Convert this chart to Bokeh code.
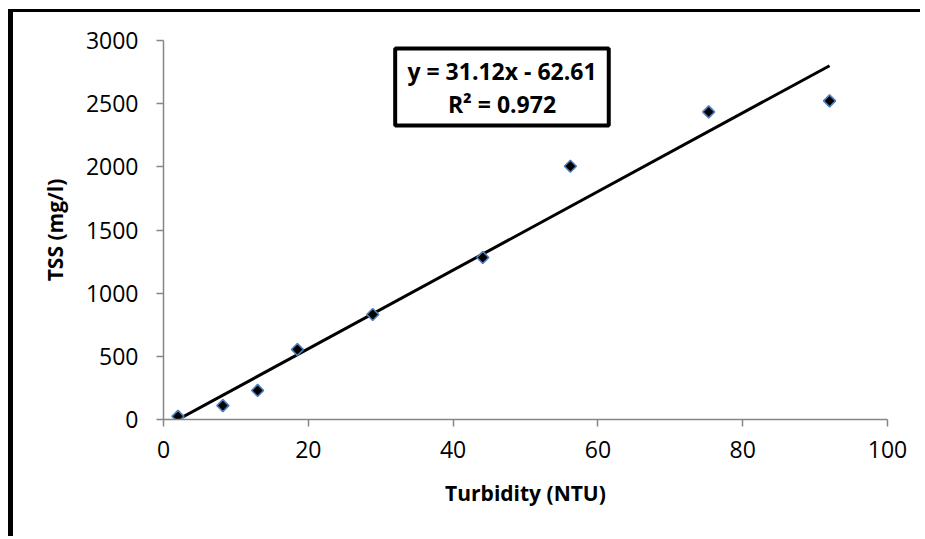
import numpy as np
from bokeh.plotting import figure
from bokeh.models import Range1d, FixedTicker, BoxAnnotation, Label, ColumnDataSource
from bokeh.embed import file_html
from bokeh.resources import INLINE

# ---- data ----
turbidity = [2.0, 8.2, 13.0, 18.5, 28.9, 44.1, 56.2, 75.3, 92.0]
tss = [25, 110, 230, 554, 831, 1282, 2005, 2435, 2522]
slope = 31.12
intercept = -62.61
r_squared = 0.972
x_ticks = [0, 20, 40, 60, 80, 100]
y_ticks = [0, 500, 1000, 1500, 2000, 2500, 3000]
x_title = "Turbidity (NTU)"
y_title = "TSS (mg/l)"

FONT = "Open Sans"
AXIS_GRAY = "#868686"

p = figure(width=912, height=527, output_backend="svg", toolbar_location=None,
           x_range=Range1d(0, 100), y_range=Range1d(0, 3000),
           min_border_left=150, min_border_right=38,
           min_border_top=28, min_border_bottom=120)
# outer chart border: only its left and top edges fall inside the window
p.styles = {"margin-left": "8px", "margin-top": "9px",
            "border-left": "5px solid black", "border-top": "3px solid black"}
p.outline_line_color = None
p.grid.visible = False
p.background_fill_color = "white"
p.border_fill_color = "white"

for ax, ticks in ((p.xaxis, x_ticks), (p.yaxis, y_ticks)):
    ax.ticker = FixedTicker(ticks=ticks)
    ax.minor_tick_line_color = None
    ax.axis_line_color = AXIS_GRAY
    ax.axis_line_width = 1.5
    ax.major_tick_line_color = AXIS_GRAY
    ax.major_tick_line_width = 1.5
    ax.major_tick_in = 0
    ax.major_tick_out = 7
    ax.major_label_text_font = FONT
    ax.major_label_text_font_size = "23px"
    ax.major_label_text_color = "black"
    ax.axis_label_text_font = FONT
    ax.axis_label_text_font_style = "bold"
    ax.axis_label_text_font_size = "21px"
    ax.axis_label_text_color = "black"

p.xaxis.axis_label = x_title
p.yaxis.axis_label = y_title
p.xaxis.major_label_standoff = 14
p.yaxis.major_label_standoff = 18
p.xaxis.axis_label_standoff = 18
p.yaxis.axis_label_standoff = 14

# trendline over the range of the data
xs = np.array([min(turbidity), max(turbidity)])
p.line(xs, slope * xs + intercept, line_color="black", line_width=3)

src = ColumnDataSource(dict(x=turbidity, y=tss))
p.scatter("x", "y", source=src, marker="square", angle=np.pi / 4, size=8.5,
          fill_color="black", line_color="#4F81BD", line_width=1.6)

# equation box
box = BoxAnnotation(left=32.0, right=61.5, top=2937, bottom=2327,
                    fill_color="white", fill_alpha=1.0,
                    line_color="black", line_alpha=1.0, line_width=4,
                    level="annotation")
p.add_layout(box)
eq1 = Label(x=46.75, y=2762, text=f"y = {slope}x - {abs(intercept)}",
            text_align="center", text_baseline="middle",
            text_font=FONT, text_font_style="bold", text_font_size="23px",
            text_color="black")
eq2 = Label(x=46.75, y=2501, text=f"R² = {r_squared}",
            text_align="center", text_baseline="middle",
            text_font=FONT, text_font_style="bold", text_font_size="23px",
            text_color="black")
p.add_layout(eq1)
p.add_layout(eq2)

open("out.html", "w").write(file_html(p, INLINE))
